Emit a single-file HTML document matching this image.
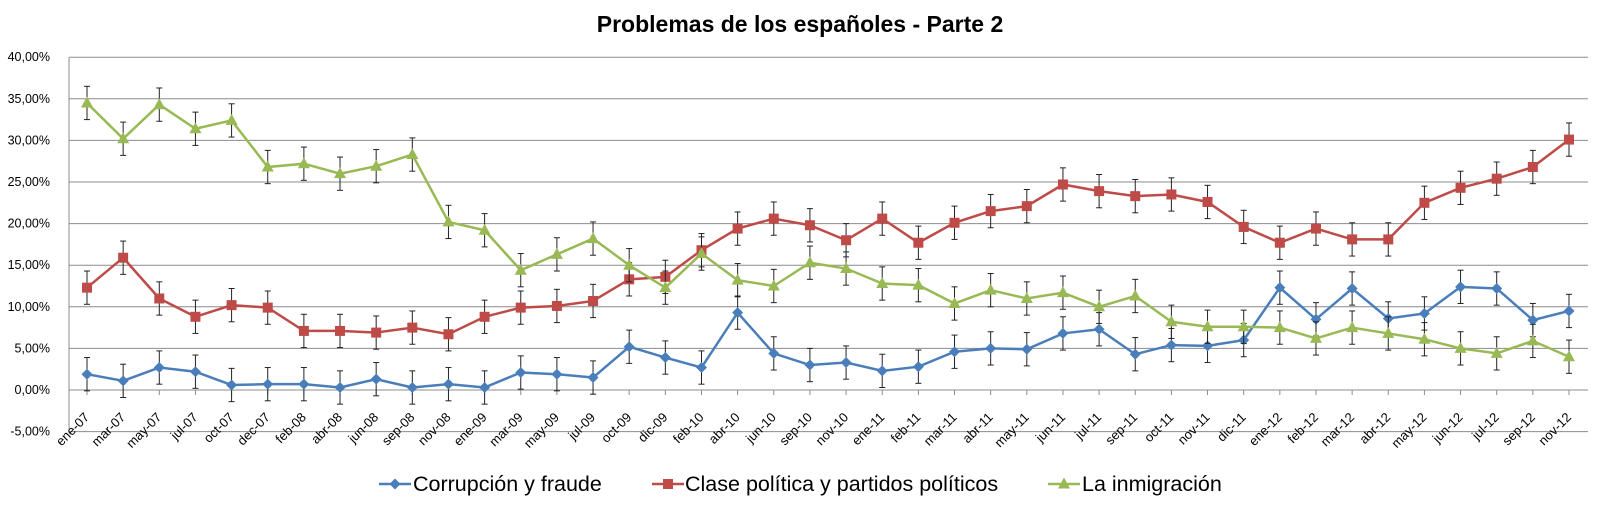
<!DOCTYPE html>
<html><head><meta charset="utf-8">
<style>
body{margin:0;background:#fff;}
svg{display:block;font-family:"Liberation Sans",Arial,sans-serif;}
</style></head>
<body>
<svg id="chart" width="1600" height="506">
<text x="800" y="32" text-anchor="middle" font-size="23" font-weight="bold">Problemas de los españoles - Parte 2</text>
<g id="grid"></g><g id="yt"></g><g id="xt"></g><g id="series"></g>
<g id="legend"></g>
</svg>
<script>
const categories=["ene-07","mar-07","may-07","jul-07","oct-07","dec-07","feb-08","abr-08","jun-08","sep-08","nov-08","ene-09","mar-09","may-09","jul-09","oct-09","dic-09","feb-10","abr-10","jun-10","sep-10","nov-10","ene-11","feb-11","mar-11","abr-11","may-11","jun-11","jul-11","sep-11","oct-11","nov-11","dic-11","ene-12","feb-12","mar-12","abr-12","may-12","jun-12","jul-12","sep-12","nov-12"];
const corrupcion=[1.9,1.1,2.7,2.2,0.6,0.7,0.7,0.3,1.3,0.3,0.7,0.3,2.1,1.9,1.5,5.2,3.9,2.7,9.3,4.4,3.0,3.3,2.3,2.8,4.6,5.0,4.9,6.8,7.3,4.3,5.4,5.3,6.0,12.3,8.5,12.2,8.6,9.2,12.4,12.2,8.4,9.5];
const clasePolitica=[12.3,15.9,11.0,8.8,10.2,9.9,7.1,7.1,6.9,7.5,6.7,8.8,9.9,10.1,10.7,13.3,13.6,16.8,19.4,20.6,19.8,18.0,20.6,17.7,20.1,21.5,22.1,24.7,23.9,23.3,23.5,22.6,19.6,17.7,19.4,18.1,18.1,22.5,24.3,25.4,26.8,30.1];
const inmigracion=[34.5,30.2,34.3,31.4,32.4,26.8,27.2,26.0,26.9,28.3,20.2,19.2,14.4,16.3,18.2,15.0,12.3,16.4,13.2,12.5,15.3,14.6,12.8,12.6,10.4,12.0,11.0,11.7,10.0,11.3,8.2,7.6,7.6,7.5,6.2,7.5,6.8,6.1,5.0,4.4,5.9,4.0];
const yTicks=[-5,0,5,10,15,20,25,30,35,40];
const errorMargin=2;
const NS="http://www.w3.org/2000/svg";
function el(t,a,p){const e=document.createElementNS(NS,t);for(const k in a)e.setAttribute(k,a[k]);p.appendChild(e);return e;}
const X0=87,X1=1569,PL=69,PR=1588;
function xs(i){return X0+(X1-X0)*i/(categories.length-1);}
function ys(v){return 390-v*(41.6/5);}
const grid=document.getElementById('grid'),yt=document.getElementById('yt'),xt=document.getElementById('xt');
yTicks.forEach(t=>{
 const l=el('line',{x1:PL,x2:PR,y1:ys(t),y2:ys(t),stroke:'#8c8c8c','stroke-width':1},grid);
 
 
 const tx=el('text',{x:50,y:ys(t)+4,'text-anchor':'end','font-size':12.5},yt);
 tx.textContent=t.toFixed(2).replace('.',',')+'%';
 
 
});
el('line',{x1:PL,x2:PL,y1:ys(40),y2:ys(-5),stroke:'#8c8c8c'},grid);
categories.forEach((c,i)=>{
 const x=xs(i);
 el('line',{x1:x,x2:x,y1:ys(0),y2:ys(0)+5,stroke:'#8c8c8c'},grid);
 const ax=x+3,ay=418;
 const tx=el('text',{x:ax,y:ay,'text-anchor':'end','font-size':13,transform:`rotate(-45 ${ax} ${ay})`},xt);
 tx.textContent=c;
 
 
});
const S=document.getElementById('series');
function marker(kind,x,y,col,g){
 let m;
 if(kind==='d')m=el('polygon',{points:`${x},${y-5.5} ${x+5.5},${y} ${x},${y+5.5} ${x-5.5},${y}`,fill:col},g);
 else if(kind==='s')m=el('rect',{x:x-5,y:y-5,width:10,height:10,fill:col},g);
 else m=el('polygon',{points:`${x},${y-6.5} ${x+6},${y+4.5} ${x-6},${y+4.5}`,fill:col},g);
 return m;
}
function series(data,col,kind,name){
 const g=el('g',{},S);
 
 
 data.forEach((v,i)=>{const x=xs(i);
  el('line',{x1:x,x2:x,y1:ys(v-errorMargin),y2:ys(v+errorMargin),stroke:'#222','stroke-width':1},g);
  el('line',{x1:x-3,x2:x+3,y1:ys(v-errorMargin),y2:ys(v-errorMargin),stroke:'#222'},g);
  el('line',{x1:x-3,x2:x+3,y1:ys(v+errorMargin),y2:ys(v+errorMargin),stroke:'#222'},g);});
 el('polyline',{points:data.map((v,i)=>xs(i)+','+ys(v)).join(' '),fill:'none',stroke:col,'stroke-width':2.5},g);
 data.forEach((v,i)=>{const m=marker(kind,xs(i),ys(v),col,g);
  
  });
}
series(corrupcion,'#4a7ebb','d','series-corrupcion');
series(clasePolitica,'#be4b48','s','series-clase-politica');
series(inmigracion,'#98b954','t','series-inmigracion');
const L=document.getElementById('legend');
[[379,413,'#4a7ebb','d','Corrupción y fraude'],[652,685,'#be4b48','s','Clase política y partidos políticos'],[1048,1082,'#98b954','t','La inmigración']].forEach(e=>{
 const g=el('g',{},L);
 
 
 el('line',{x1:e[0],x2:e[0]+32,y1:484,y2:484,stroke:e[2],'stroke-width':2.5},g);
 marker(e[3],e[0]+16,484,e[2],g);
 const t=el('text',{x:e[1],y:491,'font-size':21.5},g);t.textContent=e[4];
});
</script>
</body></html>
